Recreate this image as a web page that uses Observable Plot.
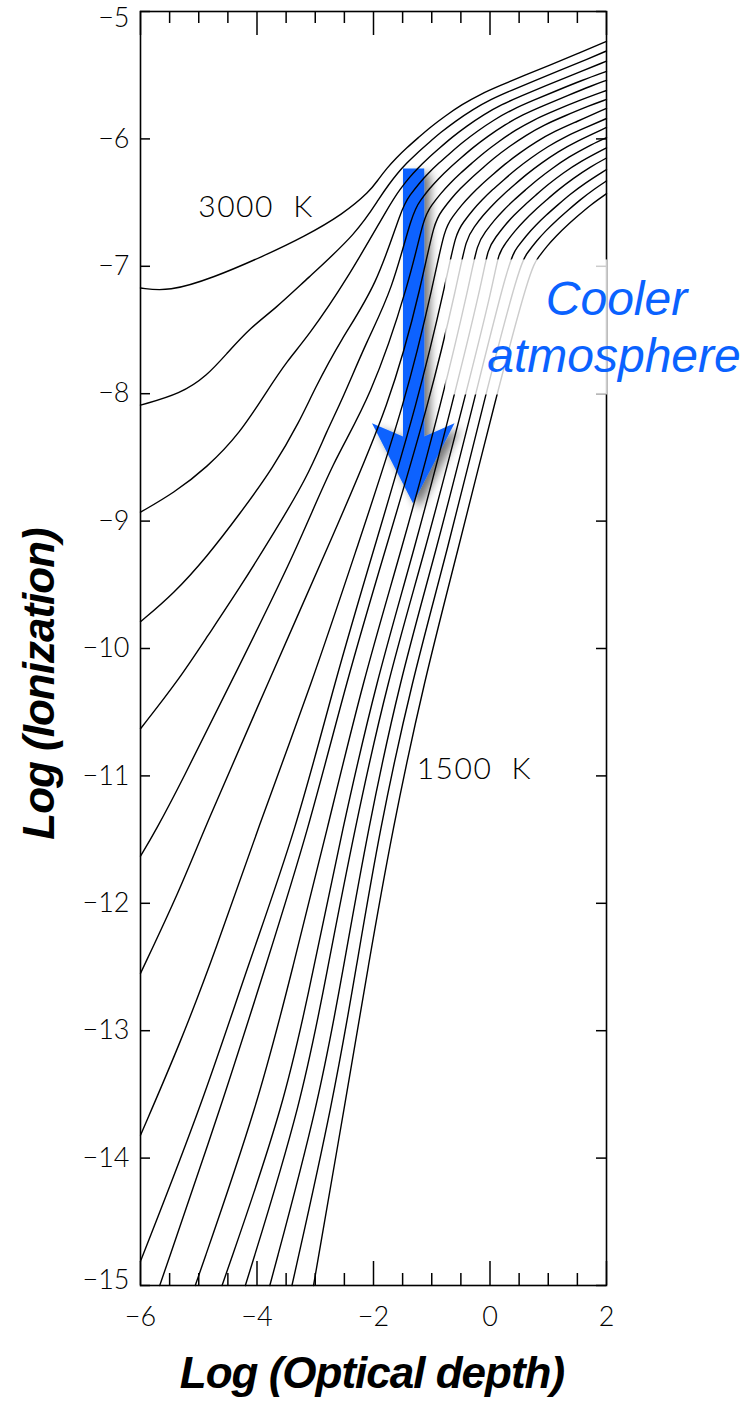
<!DOCTYPE html>
<html><head><meta charset="utf-8">
<script src="https://cdn.jsdelivr.net/npm/d3@7"></script>
<script src="https://cdn.jsdelivr.net/npm/@observablehq/plot@0.6"></script>
<style>
html,body{margin:0;padding:0;background:#fff;}
</style></head>
<body>
<script>
// ---- data: log(optical depth) vs log(ionization), one curve per temperature ----
const temperatures = [3000,2900,2800,2700,2600,2500,2400,2300,2200,2100,2000,1900,1800,1700,1600,1500];

const c3000 = [[-6,-7.17],[-5.52,-7.20],[-4.75,-7.09],[-3.89,-6.92],[-3.20,-6.77],[-2.52,-6.59],[-2.06,-6.41],[-1.92,-6.32],[-1.77,-6.23],[-1.61,-6.15],[-1.43,-6.07],[-1.23,-5.99],[-1.03,-5.91],[-0.77,-5.82],[-0.48,-5.73],[-0.17,-5.65],[0.18,-5.58],[0.60,-5.50],[1.03,-5.42],[1.51,-5.33],[2,-5.235]];
const c2900 = [[-6,-8.09],[-5.31,-8.00],[-4.86,-7.86],[-4.51,-7.68],[-4.11,-7.48],[-3.68,-7.33],[-3.17,-7.11],[-2.28,-6.74],[-1.88,-6.45],[-1.74,-6.36],[-1.59,-6.27],[-1.43,-6.19],[-1.25,-6.11],[-1.05,-6.03],[-0.85,-5.95],[-0.59,-5.86],[-0.30,-5.77],[0.01,-5.69],[0.36,-5.62],[0.78,-5.54],[1.21,-5.46],[1.69,-5.37],[2,-5.31]];
const c2800 = [[-6,-8.93],[-5.43,-8.78],[-4.86,-8.58],[-4.29,-8.31],[-3.83,-7.98],[-3.48,-7.74],[-3.14,-7.56],[-2.46,-7.11],[-1.69,-6.49],[-1.55,-6.40],[-1.40,-6.31],[-1.24,-6.23],[-1.06,-6.15],[-0.86,-6.07],[-0.66,-5.99],[-0.40,-5.90],[-0.11,-5.81],[0.20,-5.73],[0.55,-5.66],[0.97,-5.58],[1.40,-5.50],[2,-5.39]];
const c2700 = [[-6,-9.79],[-5.43,-9.57],[-4.86,-9.28],[-4.29,-8.94],[-3.72,-8.58],[-3.26,-8.21],[-3.03,-7.98],[-2.57,-7.58],[-1.94,-7.15],[-1.51,-6.53],[-1.37,-6.44],[-1.22,-6.35],[-1.06,-6.27],[-0.88,-6.19],[-0.68,-6.11],[-0.48,-6.03],[-0.22,-5.94],[0.07,-5.85],[0.38,-5.77],[0.73,-5.70],[1.15,-5.62],[1.58,-5.54],[2,-5.47]];
const c2600 = [[-6,-10.63],[-5.35,-10.25],[-4.86,-9.91],[-4.29,-9.52],[-3.72,-9.10],[-3.14,-8.66],[-2.80,-8.29],[-2.54,-8.05],[-2.11,-7.58],[-1.68,-7.19],[-1.33,-6.57],[-1.19,-6.48],[-1.04,-6.39],[-0.88,-6.31],[-0.70,-6.23],[-0.50,-6.15],[-0.30,-6.07],[-0.04,-5.98],[0.25,-5.89],[0.56,-5.81],[0.91,-5.74],[1.33,-5.66],[1.76,-5.58],[2,-5.54]];
const c2500 = [[-6,-11.63],[-5.74,-11.43],[-5.31,-11.06],[-4.43,-10.25],[-3.32,-9.23],[-2.69,-8.52],[-2.06,-8.05],[-1.37,-7.11],[-1.14,-6.61],[-1.00,-6.52],[-0.85,-6.43],[-0.69,-6.35],[-0.51,-6.27],[-0.31,-6.19],[-0.11,-6.11],[0.15,-6.02],[0.44,-5.93],[0.75,-5.85],[1.10,-5.78],[1.52,-5.70],[2,-5.62]];
const c2400 = [[-6,-12.55],[-5.31,-11.88],[-4.92,-11.43],[-3.79,-10.25],[-2.81,-9.23],[-1.68,-8.05],[-1.16,-7.11],[-0.96,-6.65],[-0.82,-6.56],[-0.67,-6.47],[-0.51,-6.39],[-0.33,-6.31],[-0.13,-6.23],[0.07,-6.15],[0.33,-6.06],[0.62,-5.97],[0.93,-5.89],[1.28,-5.82],[1.70,-5.74],[2,-5.69]];
const c2300 = [[-6,-13.82],[-5.31,-13.09],[-4.71,-12.37],[-4.00,-11.43],[-3.04,-10.25],[-2.30,-9.23],[-1.44,-8.05],[-0.96,-7.11],[-0.78,-6.70],[-0.64,-6.61],[-0.49,-6.52],[-0.33,-6.44],[-0.15,-6.36],[0.05,-6.28],[0.25,-6.20],[0.51,-6.11],[0.80,-6.02],[1.11,-5.94],[1.46,-5.87],[2,-5.76]];
const c2200 = [[-6,-14.81],[-4.92,-13.55],[-4.16,-12.49],[-3.33,-11.43],[-2.66,-10.25],[-2.00,-9.23],[-1.23,-8.05],[-0.75,-7.11],[-0.59,-6.74],[-0.45,-6.65],[-0.30,-6.56],[-0.14,-6.48],[0.04,-6.40],[0.24,-6.32],[0.44,-6.24],[0.70,-6.15],[0.99,-6.06],[1.30,-5.98],[1.65,-5.91],[2,-5.84]];
const c2100 = [[-5.67,-15],[-4.58,-13.55],[-3.85,-12.49],[-3.12,-11.43],[-2.46,-10.25],[-1.80,-9.23],[-1.03,-8.05],[-0.55,-7.11],[-0.41,-6.78],[-0.27,-6.69],[-0.12,-6.60],[0.04,-6.52],[0.22,-6.44],[0.42,-6.36],[0.62,-6.28],[0.88,-6.19],[1.17,-6.10],[1.48,-6.02],[2,-5.91]];
const c2000 = [[-5.06,-15],[-3.96,-13.55],[-3.38,-12.49],[-2.80,-11.43],[-2.18,-10.25],[-1.52,-9.23],[-0.82,-8.05],[-0.34,-7.11],[-0.22,-6.82],[-0.08,-6.73],[0.07,-6.64],[0.23,-6.56],[0.41,-6.48],[0.61,-6.40],[0.81,-6.32],[1.07,-6.23],[1.36,-6.14],[1.67,-6.06],[2,-5.99]];
const c1900 = [[-4.60,-15],[-3.50,-13.55],[-3.02,-12.49],[-2.54,-11.43],[-1.95,-10.25],[-1.30,-9.23],[-0.63,-8.05],[-0.13,-7.11],[-0.04,-6.86],[0.10,-6.77],[0.25,-6.68],[0.41,-6.60],[0.59,-6.52],[0.79,-6.44],[0.99,-6.36],[1.25,-6.27],[1.54,-6.18],[2,-6.07]];
const c1800 = [[-4.20,-15],[-3.22,-13.55],[-2.78,-12.49],[-2.33,-11.43],[-1.76,-10.25],[-1.11,-9.23],[-0.44,-8.05],[0.07,-7.11],[0.14,-6.90],[0.28,-6.81],[0.43,-6.72],[0.59,-6.64],[0.77,-6.56],[0.97,-6.48],[1.17,-6.40],[1.43,-6.31],[1.72,-6.22],[2,-6.15]];
const c1700 = [[-3.78,-15],[-2.93,-13.55],[-2.51,-12.49],[-2.10,-11.43],[-1.55,-10.25],[-0.92,-9.23],[-0.27,-8.05],[0.33,-6.94],[0.47,-6.85],[0.62,-6.76],[0.78,-6.68],[0.96,-6.60],[1.16,-6.52],[1.36,-6.44],[1.62,-6.35],[2,-6.24]];
const c1600 = [[-3.40,-15],[-2.69,-13.55],[-2.29,-12.49],[-1.90,-11.43],[-1.34,-10.25],[-0.73,-9.23],[-0.10,-8.05],[0.51,-6.98],[0.65,-6.89],[0.80,-6.80],[0.96,-6.72],[1.14,-6.64],[1.34,-6.56],[1.54,-6.48],[1.80,-6.39],[2,-6.33]];
const c1500 = [[-3.03,-15],[-2.48,-13.55],[-2.09,-12.49],[-1.68,-11.43],[-1.13,-10.25],[-0.55,-9.23],[0.09,-8.05],[0.69,-7.02],[0.83,-6.93],[0.98,-6.84],[1.14,-6.76],[1.32,-6.68],[1.52,-6.60],[1.72,-6.52],[2,-6.43]];

const curves = [c3000,c2900,c2800,c2700,c2600,c2500,c2400,c2300,c2200,c2100,c2000,c1900,c1800,c1700,c1600,c1500];

// axis ticks
const xMajorTicks = [-6,-4,-2,0,2];
const xMinorTicks = [-5.5,-5,-4.5,-3.5,-3,-2.5,-1.5,-1,-0.5,0.5,1,1.5];
const yTicks = [-15,-14,-13,-12,-11,-10,-9,-8,-7,-6,-5];

// annotations (data units)
const tempLabels = [{text:"3000\u00a0\u00a0K", x:-5.00, y:-6.62},{text:"1500\u00a0\u00a0K", x:-1.25, y:-11.03}];
const arrowX = [-1.494,-1.129,-1.129,-0.609,-1.322,-2.026,-1.494,-1.494];
const arrowY = [-6.232,-6.232,-8.336,-8.232,-8.859,-8.232,-8.336,-6.232];
const noteBox = {x1:-0.76, x2:2.02, y1:-8.01, y2:-6.95};
const noteLines = [{text:"Cooler", x:2.18, y:-7.386},{text:"atmosphere", x:2.137, y:-7.831}];

const rows = curves.flatMap((c,i) => c.map(([x,y]) => ({temp: temperatures[i], x, y})));
const arrowPts = arrowX.map((x,i) => ({x, y: arrowY[i]}));

const W = 755, H = 1401, mL = 140, mR = 149, mT = 11, mB = 116;
const kx = (W - mL - mR) / 8, ky = (H - mT - mB) / 10;
const blue = "#0a62ff";
const intFmt = d3.format("d");

const chart = Plot.plot({
  width: W, height: H,
  marginLeft: mL, marginRight: mR, marginTop: mT, marginBottom: mB,
  x: {domain: [-6, 2]},
  y: {domain: [-15, -5]},
  style: {background: "white", color: "black", fontFamily: "Lato, 'DejaVu Sans', sans-serif"},
  marks: [
    Plot.line(arrowPts, {x: "x", y: "y", fill: blue, stroke: "none"}),
    Plot.line(rows, {x: "x", y: "y", z: "temp", stroke: "black", strokeWidth: 1.4, curve: "basis"}),
    Plot.ruleY(yTicks, {y: d => d, x1: -6, x2: -6 + 10/kx, stroke: "black", strokeWidth: 1.5}),
    Plot.ruleY(yTicks, {y: d => d, x1: 2 - 10/kx, x2: 2, stroke: "black", strokeWidth: 1.5}),
    Plot.ruleX(xMajorTicks, {x: d => d, y1: -15, y2: -15 + 24/ky, stroke: "black", strokeWidth: 1.5}),
    Plot.ruleX(xMajorTicks, {x: d => d, y1: -5 - 24/ky, y2: -5, stroke: "black", strokeWidth: 1.5}),
    Plot.ruleX(xMinorTicks, {x: d => d, y1: -15, y2: -15 + 12/ky, stroke: "black", strokeWidth: 1.5}),
    Plot.ruleX(xMinorTicks, {x: d => d, y1: -5 - 12/ky, y2: -5, stroke: "black", strokeWidth: 1.5}),
    Plot.frame({stroke: "black", strokeWidth: 1.6}),
    Plot.axisX(xMajorTicks, {anchor: "bottom", tickSize: 0, tickPadding: 21, fontSize: 27, fontWeight: 300, tickFormat: intFmt, label: null}),
    Plot.axisY(yTicks, {anchor: "left", tickSize: 0, tickPadding: 11, fontSize: 27, fontWeight: 300, tickFormat: intFmt, label: null})
  ]
});
document.body.appendChild(chart);

const svg = d3.select(chart);
const sx = v => chart.scale("x").apply(v);
const sy = v => chart.scale("y").apply(v);

// nudge the end labels of the y axis inward, as in the original
svg.selectAll("text").filter(function() { return this.textContent === intFmt(-5); }).attr("dy", 7);
svg.selectAll("text").filter(function() { return this.textContent === intFmt(-15); }).attr("dy", -5);

// drop shadow for the arrow
const defs = svg.insert("defs", ":first-child");
const f = defs.append("filter").attr("id", "shadow").attr("x", "-60%").attr("y", "-30%").attr("width", "220%").attr("height", "160%");
f.append("feGaussianBlur").attr("in", "SourceAlpha").attr("stdDeviation", 5).attr("result", "b");
f.append("feOffset").attr("in", "b").attr("dx", 6).attr("dy", 5).attr("result", "o");
f.append("feComponentTransfer").attr("in", "o").attr("result", "s").append("feFuncA").attr("type", "linear").attr("slope", 0.55);
const fm = f.append("feMerge"); fm.append("feMergeNode").attr("in", "s"); fm.append("feMergeNode").attr("in", "SourceGraphic");
svg.select("g[aria-label='line']").attr("filter", "url(#shadow)");

// temperature labels
svg.append("g").selectAll("text").data(tempLabels).join("text")
  .attr("x", d => sx(d.x)).attr("y", d => sy(d.y)).attr("text-anchor", "start")
  .attr("font-family", "Lato, 'DejaVu Sans', sans-serif").attr("font-weight", 300)
  .attr("font-size", 30).attr("letter-spacing", 1.5).attr("fill", "black")
  .text(d => d.text);

// translucent note box and text
svg.append("rect")
  .attr("x", sx(noteBox.x1)).attr("y", sy(noteBox.y2))
  .attr("width", sx(noteBox.x2) - sx(noteBox.x1)).attr("height", sy(noteBox.y1) - sy(noteBox.y2))
  .attr("fill", "white").attr("fill-opacity", 0.8);
svg.append("g").selectAll("text").data(noteLines).join("text")
  .attr("x", d => sx(d.x)).attr("y", d => sy(d.y)).attr("text-anchor", "middle")
  .attr("font-family", "'Liberation Sans', Arial, sans-serif").attr("font-style", "italic")
  .attr("font-size", 48).attr("fill", blue)
  .text(d => d.text);

// axis titles
svg.append("text").attr("x", 372).attr("y", 1388).attr("text-anchor", "middle")
  .attr("font-family", "'Liberation Sans', Arial, sans-serif").attr("font-weight", "bold").attr("font-style", "italic")
  .attr("font-size", 44).attr("letter-spacing", -1).attr("fill", "black")
  .text("Log (Optical depth)");
svg.append("text").attr("transform", "translate(54,684) rotate(-90)").attr("text-anchor", "middle")
  .attr("font-family", "'Liberation Sans', Arial, sans-serif").attr("font-weight", "bold").attr("font-style", "italic")
  .attr("font-size", 44).attr("letter-spacing", -1).attr("fill", "black")
  .text("Log (Ionization)");
</script>
</body></html>
